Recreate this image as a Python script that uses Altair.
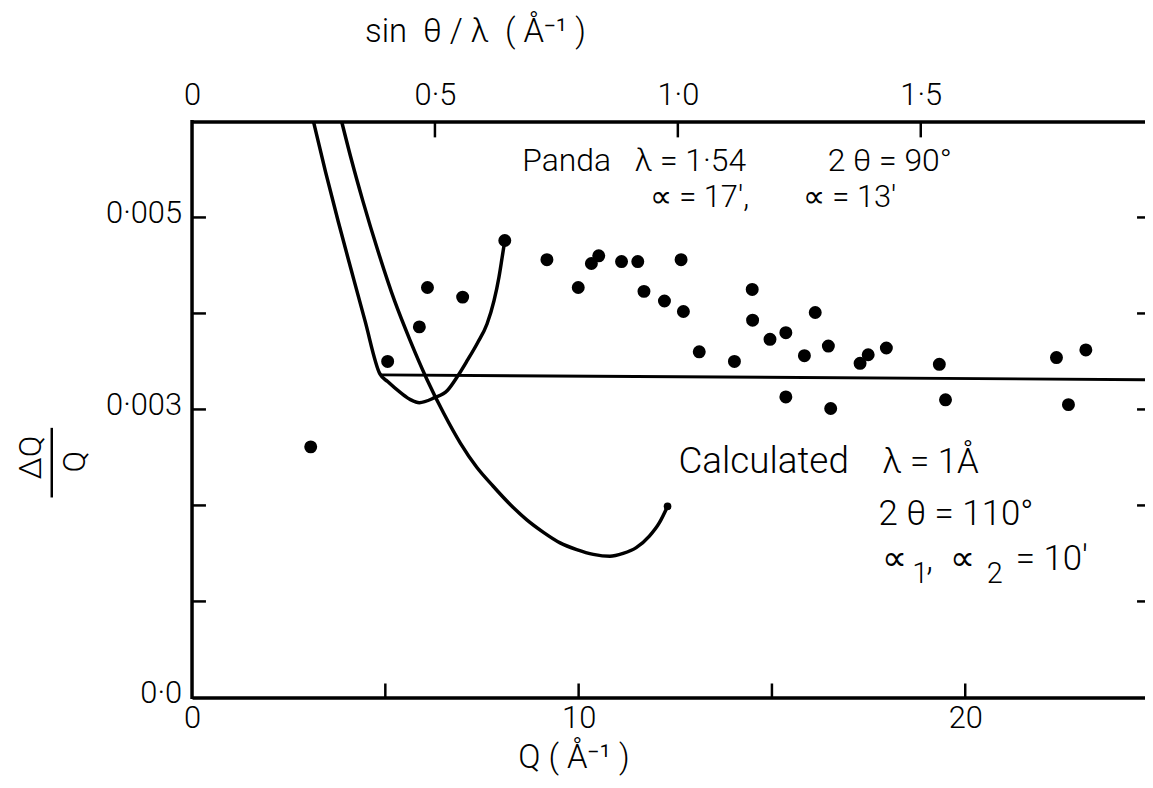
import math
import altair as alt
import pandas as pd

# ---------------- data ----------------
# measured points (Panda, lambda = 1.54)
meas_q = [3.07, 5.06, 5.88, 6.09, 7.00, 8.09, 9.18, 9.99, 10.33, 10.52, 11.11, 11.53,
          11.69, 12.22, 12.65, 12.71, 13.12, 14.03, 14.49, 14.50, 14.95, 15.36, 15.36,
          15.84, 16.12, 16.46, 16.52, 17.28, 17.49, 17.96, 19.33, 19.49, 22.36, 22.67, 23.12]
meas_dq = [0.00261, 0.00350, 0.00386, 0.00427, 0.00417, 0.00476, 0.00456, 0.00427,
           0.00452, 0.00460, 0.00454, 0.00454, 0.00423, 0.00413, 0.00456, 0.00402,
           0.00360, 0.00350, 0.00425, 0.00393, 0.00373, 0.00380, 0.00313, 0.00356,
           0.00401, 0.00366, 0.00301, 0.00348, 0.00357, 0.00364, 0.00347, 0.00310,
           0.00354, 0.00305, 0.00362]

# Panda resolution curve
panda_q = [3.14, 3.45, 3.78, 4.12, 4.47, 4.86, 5.06, 5.41, 5.66,
           5.88, 6.26, 6.61, 6.86, 7.12, 7.38, 7.63, 7.81, 7.94, 8.02, 8.09]
panda_dq = [0.00600, 0.00548, 0.00496, 0.00445, 0.00393, 0.00337, 0.00329, 0.00317,
            0.00310, 0.00307, 0.00312, 0.00320, 0.00334, 0.00351, 0.00369, 0.00389,
            0.00413, 0.00438, 0.00458, 0.00476]

# Calculated curve (lambda = 1 A, 2theta = 110)
calc_q = [3.87, 4.13, 4.42, 4.81, 5.24, 5.64, 6.08, 6.51, 6.94, 7.36, 7.79,
          8.23, 8.66, 9.09, 9.52, 9.95, 10.38, 10.81, 11.15, 11.49, 11.83, 12.09, 12.30]
calc_dq = [0.00600, 0.00559, 0.00517, 0.00465, 0.00413, 0.00372, 0.00331, 0.00296,
           0.00265, 0.00240, 0.00220, 0.00201, 0.00185, 0.00172, 0.00161,
           0.00154, 0.00149, 0.00147, 0.00150, 0.00156, 0.00168, 0.00182, 0.00199]

# horizontal level line
hline_q = [4.86, 24.65]
hline_dq = [0.00336, 0.00331]

# axes
q_tick_values = [5, 10, 15, 20]
q_label_values = [0, 10, 20]
dq_tick_values = [0.001, 0.002, 0.003, 0.004, 0.005]
dq_label_values = [0.0, 0.003, 0.005]
dq_label_texts = ["0·0", "0·003", "0·005"]
s_tick_values = [0.5, 1.0, 1.5]          # sin(theta)/lambda
s_label_values = [0.0, 0.5, 1.0, 1.5]

FONT = "Roboto"
W, H = 958, 579
XMAX = 24.65
NB = "\u00a0"

xs = alt.Scale(domain=[0, XMAX], nice=False, zero=False)
ys = alt.Scale(domain=[0, 0.006], nice=False, zero=False)

meas = pd.DataFrame({"q": meas_q, "dq": meas_dq})
panda = pd.DataFrame({"q": panda_q, "dq": panda_dq})
calc = pd.DataFrame({"q": calc_q, "dq": calc_dq})
hline = pd.DataFrame({"q": hline_q, "dq": hline_dq})
calc_end = calc.tail(1)

X = lambda: alt.X("q:Q", scale=xs, axis=None)
Y = lambda: alt.Y("dq:Q", scale=ys, axis=None)

points = alt.Chart(meas).mark_circle(size=170, color="black", opacity=1).encode(
    x=alt.X("q:Q", scale=xs, axis=alt.Axis(
        orient="bottom", values=q_label_values, ticks=False, domainWidth=3.5,
        domainColor="black", labelFont=FONT, labelFontSize=31, labelFontWeight=300,
        labelColor="black", labelPadding=6, labelFlush=False, grid=False, title=None,
        format="d")),
    y=Y(),
)

line_panda = alt.Chart(panda).mark_line(color="black", strokeWidth=3.5, interpolate="monotone").encode(x=X(), y=Y())
line_calc = alt.Chart(calc).mark_line(color="black", strokeWidth=3.5, interpolate="monotone").encode(x=X(), y=Y())
end_calc = alt.Chart(calc_end).mark_circle(size=60, color="black", opacity=1).encode(x=X(), y=Y())
line_h = alt.Chart(hline).mark_line(color="black", strokeWidth=3).encode(x=X(), y=Y())

# y labels and left frame line
ylab = alt.Chart(pd.DataFrame({"dq": dq_label_values, "t": dq_label_texts})).mark_text(
    font=FONT, fontSize=31, fontWeight=300, color="black", align="right", baseline="middle", dy=-3).encode(
    y=Y(), x=alt.value(-10), text="t:N")
left_dom = alt.Chart(pd.DataFrame({"a": [0]})).mark_rule(color="black", strokeWidth=3.5).encode(
    x=alt.value(0), y=alt.value(-1.5), y2=alt.value(H + 1.5))

# inward ticks
bt = alt.Chart(pd.DataFrame({"q": q_tick_values})).mark_rule(color="black", strokeWidth=2.5).encode(
    x=X(), y=alt.value(H), y2=alt.value(H - 14))
lt = alt.Chart(pd.DataFrame({"dq": dq_tick_values})).mark_rule(color="black", strokeWidth=2.5).encode(
    y=Y(), x=alt.value(0), x2=alt.value(14))
rt = alt.Chart(pd.DataFrame({"dq": dq_tick_values})).mark_rule(color="black", strokeWidth=2.5).encode(
    y=Y(), x=alt.value(W - 8), x2=alt.value(W))

# top axis: sin(theta)/lambda = Q / (4 pi)
top_df = pd.DataFrame({"s": s_tick_values})
top_label_q = [4 * math.pi * s for s in s_label_values]
tt = alt.Chart(top_df).transform_calculate(q="datum.s * 4 * PI").mark_rule(
    color="black", strokeWidth=2.5).encode(
    x=alt.X("q:Q", scale=xs, axis=alt.Axis(
        orient="top", values=top_label_q, ticks=False, domainWidth=3.5, domainColor="black",
        labelFont=FONT, labelFontSize=31, labelFontWeight=300, labelColor="black",
        labelPadding=10, labelFlush=False, grid=False, title=None,
        labelExpr="datum.value < 0.1 ? '0' : replace(format(datum.value / (4 * PI), '.1f'), '.', '·')")),
    y=alt.value(0), y2=alt.value(16))

# text annotations (positions in pixels of the plot area)
def txt(s, x, y, size=35, angle=None, align="left"):
    kw = dict(font=FONT, fontSize=size, fontWeight=300, color="black", align=align,
              baseline="middle")
    if angle is not None:
        kw["angle"] = angle
    return alt.Chart(pd.DataFrame({"t": [s]})).mark_text(**kw).encode(
        text="t:N", x=alt.value(x), y=alt.value(y))

texts = [
    txt("Panda", 332, 40, size=32),
    txt("λ" + NB + "=" + NB + "1·54", 445, 40, size=32),
    txt("2" + NB + "θ" + NB + "=" + NB + "90°", 639, 40, size=32),
    txt("∝" + NB + "=" + NB + "17′,", 460, 77, size=31),
    txt("∝" + NB + "=" + NB + "13′", 614, 77, size=31),
    txt("Calculated", 489, 342, size=37),
    txt("λ" + NB + "=" + NB + "1Å", 694, 342),
    txt("2" + NB + "θ" + NB + "=" + NB + "110°", 690, 395),
    txt("∝", 694, 440),
    txt("1", 724, 455, size=29),
    txt(",", 738, 440),
    txt("∝", 762, 440),
    txt("2", 799, 455, size=29),
    txt("=" + NB + "10′", 828, 440),
    txt("sin" + NB + NB + "θ" + NB + "/" + NB + "λ" + NB + NB + "(" + NB + "Å⁻¹" + NB + ")", 285, -90, size=33, align="center"),
    txt("Q" + NB + "(" + NB + "Å⁻¹" + NB + ")", 384, 640, size=33, align="center"),
    txt("ΔQ", -162, 338, size=32, angle=270, align="center"),
    txt("Q", -118, 342, size=32, angle=270, align="center"),
]
bar = alt.Chart(pd.DataFrame({"a": [0]})).mark_rule(color="black", strokeWidth=2.5).encode(
    x=alt.value(-141), x2=alt.value(-141), y=alt.value(308), y2=alt.value(378))

chart = alt.layer(points, line_panda, line_calc, end_calc, line_h, bt, lt, rt, tt, left_dom, ylab,
                  bar, *texts).properties(
    width=W, height=H,
    padding={"left": 185, "top": 112, "right": 0, "bottom": 88},
    autosize=alt.AutoSizeParams(type="none"),
).configure_view(stroke=None).configure(background="white")

chart.save("out.html", embed_options={"renderer": "svg", "actions": False})
